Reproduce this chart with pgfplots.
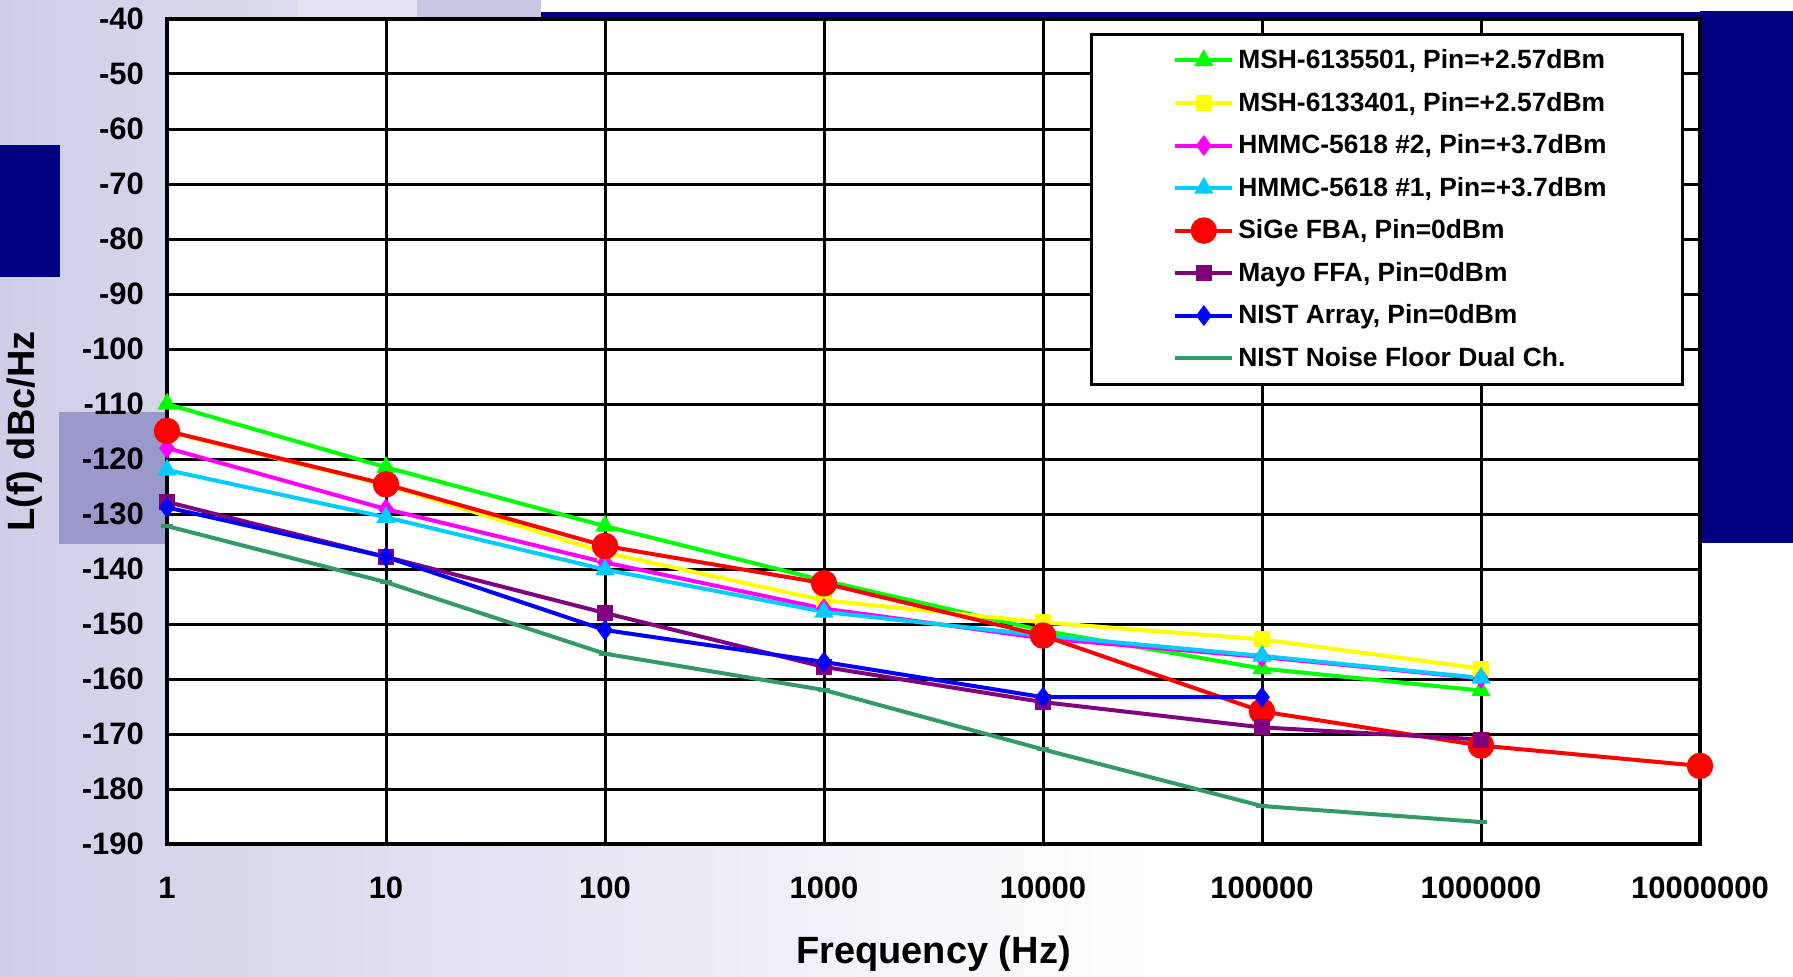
\documentclass[border=0pt]{standalone}
\usepackage{fontspec}
\setmainfont{Liberation Sans}
\usepackage{pgfplots}
\pgfplotsset{compat=1.18}
\definecolor{cGreen}{RGB}{0,255,0}
\definecolor{cYellow}{RGB}{255,255,0}
\definecolor{cMag}{RGB}{255,0,255}
\definecolor{cCyan}{RGB}{0,204,255}
\definecolor{cRed}{RGB}{255,0,0}
\definecolor{cPurple}{RGB}{128,0,128}
\definecolor{cBlue}{RGB}{0,0,255}
\definecolor{cFloor}{RGB}{51,153,102}
\definecolor{navy}{RGB}{0,0,128}
\definecolor{lav}{RGB}{206,206,232}
\definecolor{lavlight}{RGB}{228,228,242}
\definecolor{lavmed}{RGB}{200,200,228}
\definecolor{lavmid}{RGB}{153,153,204}
\begin{document}
\begin{tikzpicture}
\useasboundingbox (-83.5pt,-66pt) rectangle (813pt,422pt);
\fill[white] (-83.5pt,-66pt) rectangle (813pt,422pt);
\shade[left color=lav, right color=white] (-83.5pt,-66pt) rectangle (491.5pt,422pt);
\fill[lavlight] (65.5pt,412.5pt) rectangle (125pt,422pt);
\fill[lavmed] (125pt,412.5pt) rectangle (187pt,422pt);
\fill[white] (187pt,416pt) rectangle (813pt,422pt);
\fill[navy] (187pt,410pt) rectangle (813pt,416pt);
\fill[navy] (766.5pt,150.5pt) rectangle (813pt,416.5pt);
\fill[navy] (-83.5pt,283.5pt) rectangle (-53.5pt,349.5pt);
\fill[lavmid] (-54pt,150pt) rectangle (-1pt,216pt);
\begin{axis}[
  at={(0,0)}, anchor=south west,
  width=766.5pt, height=412.5pt, scale only axis,
  xmode=log, xmin=1, xmax=1e7, ymin=-190, ymax=-40,
  xtick={1,10,100,1000,10000,100000,1000000,10000000},
  xticklabels={1,10,100,1000,10000,100000,1000000,10000000},
  ytick={-190,-180,-170,-160,-150,-140,-130,-120,-110,-100,-90,-80,-70,-60,-50,-40},
  yticklabels={-190,-180,-170,-160,-150,-140,-130,-120,-110,-100,-90,-80,-70,-60,-50,-40},
  xminorticks=false, yminorticks=false,
  grid=major, major grid style={black, line width=1.5pt},
  axis line style={black, line width=1.8pt},
  tick style={draw=none},
  axis background/.style={fill=white},
  clip=false,
  tick label style={font=\bfseries\fontsize{15.5}{18}\selectfont},
  xticklabel style={yshift=-13pt},
  yticklabel style={xshift=-8pt},
  xlabel={Frequency (Hz)}, ylabel={L(f) dBc/Hz},
  label style={font=\bfseries\fontsize{19}{22}\selectfont},
  xlabel style={at={(axis description cs:0.5,-0.1333)}, anchor=center},
  ylabel style={at={(axis description cs:-0.0926,0.5)}, anchor=center},
  legend cell align=left,
  legend image code/.code={\path (0pt,0pt); \draw[mark repeat=2,mark phase=2,#1] plot coordinates {(5pt,0pt) (19.25pt,0pt) (33.5pt,0pt)};},
  legend style={at={(axis description cs:1,1)}, anchor=north east, xshift=-8pt, yshift=-7pt,
    draw=black, line width=1.4pt, fill=white,
    font=\bfseries\fontsize{13.2}{15}\selectfont,
    inner xsep=36pt, inner ysep=5.5pt, row sep=6.2pt,
    /tikz/every even column/.append style={column sep=0pt}},
]
\addplot[cGreen, line width=2pt, mark=triangle*, mark size=3.6pt, mark options={solid, fill=cGreen}]
 coordinates {(1,-110) (10,-121.5) (100,-132.2) (1000,-142.1) (10000,-151.2) (100000,-158.1) (1000000,-162.1)};
\addlegendentry{MSH-6135501, Pin=+2.57dBm}
\addplot[cYellow, line width=2pt, mark=square*, mark size=3pt, mark options={solid, fill=cYellow}]
 coordinates {(1,-115) (10,-124.7) (100,-137) (1000,-145.7) (10000,-149.7) (100000,-152.8) (1000000,-158.1)};
\addlegendentry{MSH-6133401, Pin=+2.57dBm}
\addplot[cMag, line width=2pt, mark=diamond*, mark size=3.6pt, mark options={solid, fill=cMag}]
 coordinates {(1,-118) (10,-129.1) (100,-138.8) (1000,-147.2) (10000,-152.6) (100000,-156) (1000000,-159.9)};
\addlegendentry{HMMC-5618 \#2, Pin=+3.7dBm}
\addplot[cCyan, line width=2pt, mark=triangle*, mark size=3.6pt, mark options={solid, fill=cCyan}]
 coordinates {(1,-122) (10,-130.6) (100,-140.1) (1000,-147.8) (10000,-152.1) (100000,-155.8) (1000000,-159.8)};
\addlegendentry{HMMC-5618 \#1, Pin=+3.7dBm}
\addplot[cRed, line width=2pt, mark=*, mark size=5.6pt, mark options={solid, fill=cRed}]
 coordinates {(1,-114.9) (10,-124.6) (100,-135.8) (1000,-142.6) (10000,-152.1) (100000,-165.9) (1000000,-172.1) (10000000,-175.8)};
\addlegendentry{SiGe FBA, Pin=0dBm}
\addplot[cPurple, line width=2pt, mark=square*, mark size=3pt, mark options={solid, fill=cPurple}]
 coordinates {(1,-127.8) (10,-137.8) (100,-148) (1000,-157.8) (10000,-164.2) (100000,-168.8) (1000000,-171)};
\addlegendentry{Mayo FFA, Pin=0dBm}
\addplot[cBlue, line width=2pt, mark=diamond*, mark size=3.6pt, mark options={solid, fill=cBlue}]
 coordinates {(1,-128.8) (10,-137.8) (100,-151.1) (1000,-156.9) (10000,-163.3) (100000,-163.3)};
\addlegendentry{NIST Array, Pin=0dBm}
\addplot[cFloor, line width=2pt, mark=-, mark size=3pt, mark options={solid, line width=2pt}]
 coordinates {(1,-132.2) (10,-142.4) (100,-155.4) (1000,-162) (10000,-172.8) (100000,-183.1) (1000000,-186)};
\addlegendentry{NIST Noise Floor Dual Ch.}
\end{axis}
\end{tikzpicture}
\end{document}
